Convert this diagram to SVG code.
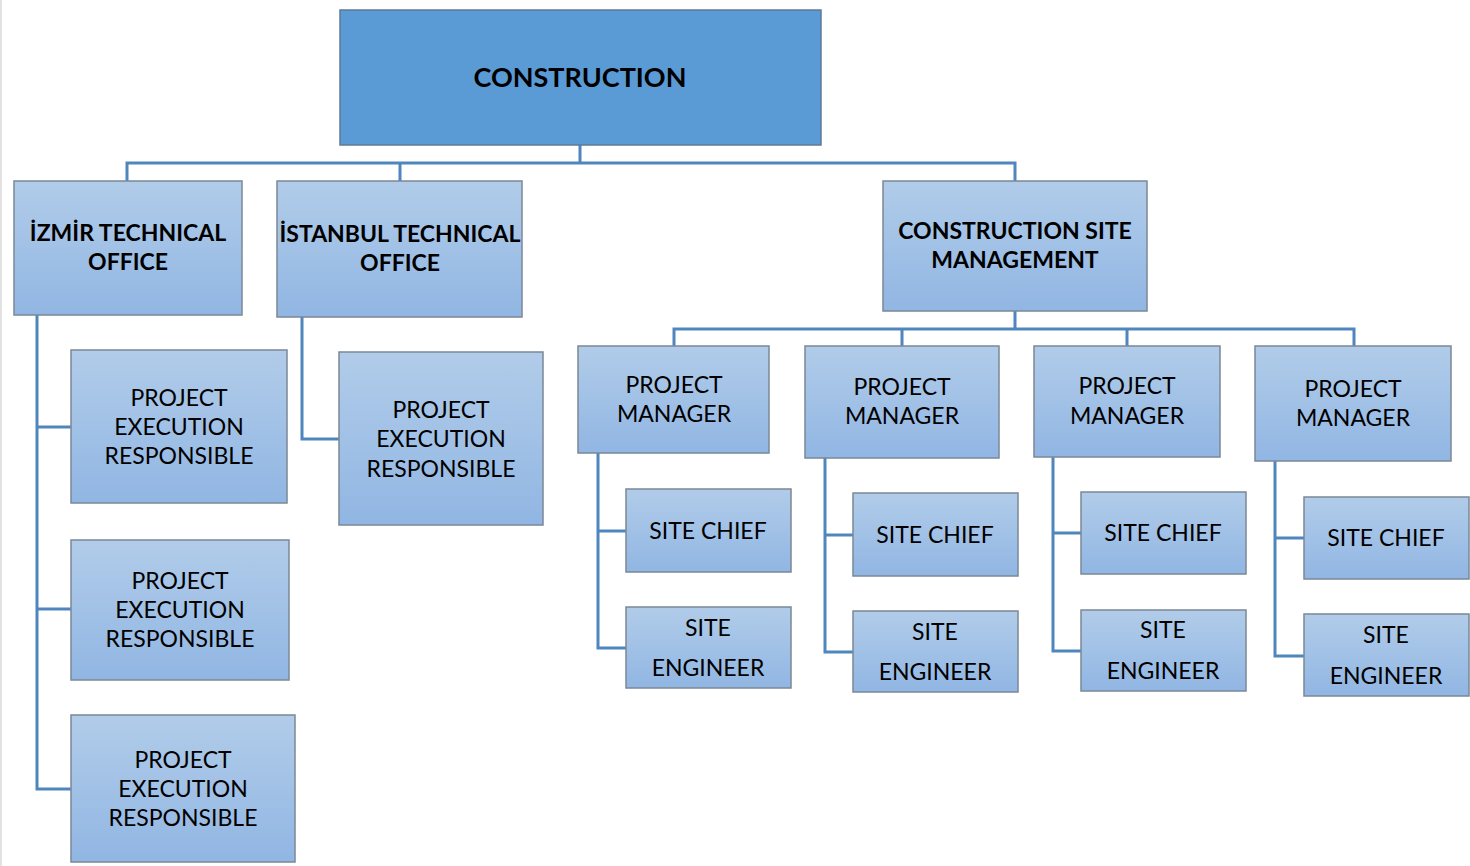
<svg xmlns="http://www.w3.org/2000/svg" width="1470" height="866" viewBox="0 0 1470 866">
<defs>
<linearGradient id="g" x1="0" y1="0" x2="0" y2="1">
<stop offset="0" stop-color="#b1cce9"/>
<stop offset="1" stop-color="#91b6e3"/>
</linearGradient>
<style>
.n{fill:url(#g);stroke:#7b8896;stroke-width:1.5}
.top{fill:#5b9bd5;stroke:#5f7a96;stroke-width:1.5}
.b{font-family:Lato,"Liberation Sans",sans-serif;font-weight:bold;font-size:23px;fill:#000;text-anchor:middle}
.r{font-family:Lato,"Liberation Sans",sans-serif;font-size:23px;fill:#000;text-anchor:middle}
.c{fill:none;stroke:#4f86be;stroke-width:3}
</style>
</defs>
<rect width="1470" height="866" fill="#fff"/>
<line x1="1" y1="0" x2="1" y2="866" stroke="#e2e2e2" stroke-width="2"/>
<g id="connectors" class="c">
<path d="M580 145V163M127 181V163H1015V181M400 163V181"/>
<path d="M37 315V789H71M37 427H71M37 609H71"/>
<path d="M302 317V439H339"/>
<path d="M1015 311V329M674 346V329H1354V346M902 329V346M1127 329V346"/>
<path d="M598 453V648H626M598 531H626"/>
<path d="M825 458V652H853M825 535H853"/>
<path d="M1053 457V651H1081M1053 533H1081"/>
<path d="M1275 461V656H1304M1275 538H1304"/>
</g>
<g id="construction"><rect class="top" x="340" y="10" width="481" height="135"/><text class="b" x="580" y="87" style="font-size:27px">CONSTRUCTION</text></g>
<g id="izmir"><rect class="n" x="14" y="181" width="228" height="134"/><text class="b" x="128" y="241">İZMİR TECHNICAL</text><text class="b" x="128" y="270">OFFICE</text></g>
<g id="istanbul"><rect class="n" x="277" y="181" width="245" height="136"/><text class="b" x="400" y="242">İSTANBUL TECHNICAL</text><text class="b" x="400" y="271">OFFICE</text></g>
<g id="csm"><rect class="n" x="883" y="181" width="264" height="130"/><text class="b" x="1015" y="239">CONSTRUCTION SITE</text><text class="b" x="1015" y="268">MANAGEMENT</text></g>
<g id="per1"><rect class="n" x="71" y="350" width="216" height="153"/><text class="r" x="179" y="406">PROJECT</text><text class="r" x="179" y="435">EXECUTION</text><text class="r" x="179" y="464">RESPONSIBLE</text></g>
<g id="per2"><rect class="n" x="71" y="540" width="218" height="140"/><text class="r" x="180" y="589">PROJECT</text><text class="r" x="180" y="618">EXECUTION</text><text class="r" x="180" y="647">RESPONSIBLE</text></g>
<g id="per3"><rect class="n" x="71" y="715" width="224" height="147"/><text class="r" x="183" y="768">PROJECT</text><text class="r" x="183" y="797">EXECUTION</text><text class="r" x="183" y="826">RESPONSIBLE</text></g>
<g id="per4"><rect class="n" x="339" y="352" width="204" height="173"/><text class="r" x="441" y="418">PROJECT</text><text class="r" x="441" y="447">EXECUTION</text><text class="r" x="441" y="477">RESPONSIBLE</text></g>
<g id="pm1"><rect class="n" x="578" y="346" width="191" height="107"/><text class="r" x="674" y="393">PROJECT</text><text class="r" x="674" y="422">MANAGER</text></g>
<g id="pm2"><rect class="n" x="805" y="346" width="194" height="112"/><text class="r" x="902" y="395">PROJECT</text><text class="r" x="902" y="424">MANAGER</text></g>
<g id="pm3"><rect class="n" x="1034" y="346" width="186" height="111"/><text class="r" x="1127" y="394">PROJECT</text><text class="r" x="1127" y="424">MANAGER</text></g>
<g id="pm4"><rect class="n" x="1255" y="346" width="196" height="115"/><text class="r" x="1353" y="397">PROJECT</text><text class="r" x="1353" y="426">MANAGER</text></g>
<g id="sc1"><rect class="n" x="626" y="489" width="165" height="83"/><text class="r" x="708" y="539">SITE CHIEF</text></g>
<g id="se1"><rect class="n" x="626" y="607" width="165" height="81"/><text class="r" x="708" y="636">SITE</text><text class="r" x="708" y="676">ENGINEER</text></g>
<g id="sc2"><rect class="n" x="853" y="493" width="165" height="83"/><text class="r" x="935" y="543">SITE CHIEF</text></g>
<g id="se2"><rect class="n" x="853" y="611" width="165" height="81"/><text class="r" x="935" y="640">SITE</text><text class="r" x="935" y="680">ENGINEER</text></g>
<g id="sc3"><rect class="n" x="1081" y="492" width="165" height="82"/><text class="r" x="1163" y="541">SITE CHIEF</text></g>
<g id="se3"><rect class="n" x="1081" y="610" width="165" height="81"/><text class="r" x="1163" y="638">SITE</text><text class="r" x="1163" y="679">ENGINEER</text></g>
<g id="sc4"><rect class="n" x="1304" y="497" width="165" height="82"/><text class="r" x="1386" y="546">SITE CHIEF</text></g>
<g id="se4"><rect class="n" x="1304" y="614" width="165" height="82"/><text class="r" x="1386" y="643">SITE</text><text class="r" x="1386" y="684">ENGINEER</text></g>
</svg>
